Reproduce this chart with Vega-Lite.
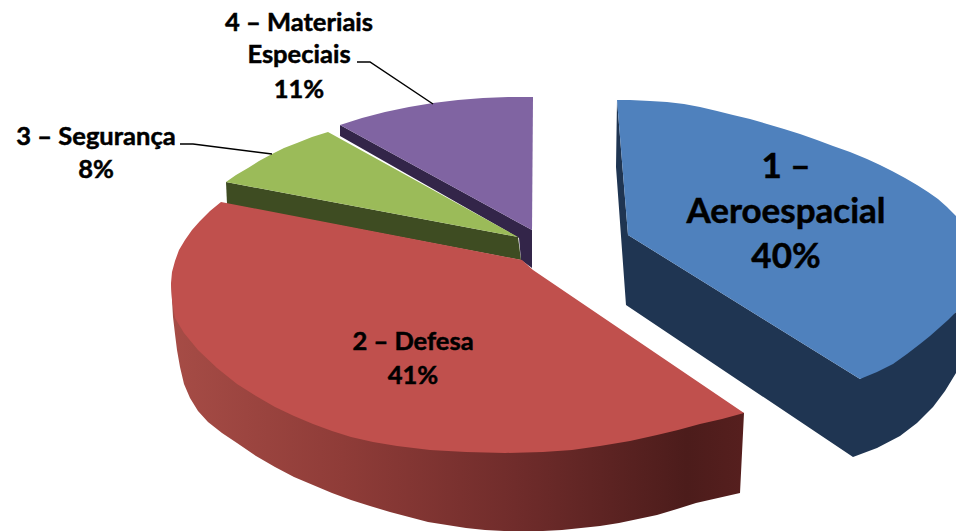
{
  "$schema": "https://vega.github.io/schema/vega-lite/v6.json",
  "width": 956,
  "height": 531,
  "autosize": {"type": "fit", "contains": "padding"},
  "padding": 0,
  "background": "white",
  "view": {"stroke": null},
  "datasets": {
    "outlines": [
      {"part": "blue side", "i": 1, "x": 617, "y": 100}, {"part": "blue side", "i": 2, "x": 616, "y": 167},
      {"part": "blue side", "i": 3, "x": 626, "y": 305}, {"part": "blue side", "i": 4, "x": 853, "y": 457},
      {"part": "blue side", "i": 5, "x": 877, "y": 448}, {"part": "blue side", "i": 6, "x": 900, "y": 436},
      {"part": "blue side", "i": 7, "x": 917, "y": 423}, {"part": "blue side", "i": 8, "x": 933, "y": 407},
      {"part": "blue side", "i": 9, "x": 945, "y": 391}, {"part": "blue side", "i": 10, "x": 956, "y": 373},
      {"part": "blue side", "i": 11, "x": 956, "y": 312}, {"part": "blue side", "i": 12, "x": 860, "y": 379},
      {"part": "blue side", "i": 13, "x": 628, "y": 235},

      {"part": "blue top", "i": 1, "x": 617, "y": 100}, {"part": "blue top", "i": 2, "x": 630, "y": 100},
      {"part": "blue top", "i": 3, "x": 650, "y": 101}, {"part": "blue top", "i": 4, "x": 667, "y": 102},
      {"part": "blue top", "i": 5, "x": 684, "y": 104}, {"part": "blue top", "i": 6, "x": 700, "y": 107},
      {"part": "blue top", "i": 7, "x": 717, "y": 111}, {"part": "blue top", "i": 8, "x": 733, "y": 115},
      {"part": "blue top", "i": 9, "x": 750, "y": 119}, {"part": "blue top", "i": 10, "x": 767, "y": 124},
      {"part": "blue top", "i": 11, "x": 784, "y": 129}, {"part": "blue top", "i": 12, "x": 800, "y": 134},
      {"part": "blue top", "i": 13, "x": 817, "y": 140}, {"part": "blue top", "i": 14, "x": 833, "y": 146},
      {"part": "blue top", "i": 15, "x": 850, "y": 152}, {"part": "blue top", "i": 16, "x": 867, "y": 159},
      {"part": "blue top", "i": 17, "x": 880, "y": 165}, {"part": "blue top", "i": 18, "x": 892, "y": 171},
      {"part": "blue top", "i": 19, "x": 905, "y": 178}, {"part": "blue top", "i": 20, "x": 917, "y": 185},
      {"part": "blue top", "i": 21, "x": 928, "y": 192}, {"part": "blue top", "i": 22, "x": 938, "y": 199},
      {"part": "blue top", "i": 23, "x": 947, "y": 207}, {"part": "blue top", "i": 24, "x": 956, "y": 216},
      {"part": "blue top", "i": 25, "x": 956, "y": 312}, {"part": "blue top", "i": 26, "x": 948, "y": 320},
      {"part": "blue top", "i": 27, "x": 939, "y": 328}, {"part": "blue top", "i": 28, "x": 930, "y": 336},
      {"part": "blue top", "i": 29, "x": 920, "y": 344}, {"part": "blue top", "i": 30, "x": 907, "y": 354},
      {"part": "blue top", "i": 31, "x": 893, "y": 364}, {"part": "blue top", "i": 32, "x": 877, "y": 372},
      {"part": "blue top", "i": 33, "x": 860, "y": 379}, {"part": "blue top", "i": 34, "x": 628, "y": 235},

      {"part": "purple side", "i": 1, "x": 340, "y": 125}, {"part": "purple side", "i": 2, "x": 532, "y": 230},
      {"part": "purple side", "i": 3, "x": 532, "y": 268}, {"part": "purple side", "i": 4, "x": 521, "y": 260},
      {"part": "purple side", "i": 5, "x": 519, "y": 238}, {"part": "purple side", "i": 6, "x": 340, "y": 136},

      {"part": "purple top", "i": 1, "x": 340, "y": 125}, {"part": "purple top", "i": 2, "x": 362, "y": 118},
      {"part": "purple top", "i": 3, "x": 385, "y": 112}, {"part": "purple top", "i": 4, "x": 409, "y": 107},
      {"part": "purple top", "i": 5, "x": 433, "y": 103}, {"part": "purple top", "i": 6, "x": 458, "y": 100},
      {"part": "purple top", "i": 7, "x": 483, "y": 98}, {"part": "purple top", "i": 8, "x": 508, "y": 97},
      {"part": "purple top", "i": 9, "x": 533, "y": 97}, {"part": "purple top", "i": 10, "x": 532, "y": 230},

      {"part": "green side", "i": 1, "x": 226, "y": 182}, {"part": "green side", "i": 2, "x": 518, "y": 237},
      {"part": "green side", "i": 3, "x": 521, "y": 260}, {"part": "green side", "i": 4, "x": 227, "y": 204},

      {"part": "green top", "i": 1, "x": 328, "y": 132}, {"part": "green top", "i": 2, "x": 312, "y": 137},
      {"part": "green top", "i": 3, "x": 297, "y": 143}, {"part": "green top", "i": 4, "x": 284, "y": 148},
      {"part": "green top", "i": 5, "x": 272, "y": 154}, {"part": "green top", "i": 6, "x": 259, "y": 161},
      {"part": "green top", "i": 7, "x": 248, "y": 168}, {"part": "green top", "i": 8, "x": 236, "y": 175},
      {"part": "green top", "i": 9, "x": 226, "y": 182}, {"part": "green top", "i": 10, "x": 518, "y": 237},

      {"part": "red side", "i": 1, "x": 171, "y": 283}, {"part": "red side", "i": 2, "x": 172, "y": 300},
      {"part": "red side", "i": 3, "x": 173, "y": 317}, {"part": "red side", "i": 4, "x": 175, "y": 334},
      {"part": "red side", "i": 5, "x": 177, "y": 350}, {"part": "red side", "i": 6, "x": 180, "y": 367},
      {"part": "red side", "i": 7, "x": 184, "y": 384}, {"part": "red side", "i": 8, "x": 190, "y": 398},
      {"part": "red side", "i": 9, "x": 198, "y": 411}, {"part": "red side", "i": 10, "x": 208, "y": 422},
      {"part": "red side", "i": 11, "x": 222, "y": 433},
      {"part": "red side", "i": 12, "x": 237, "y": 443}, {"part": "red side", "i": 13, "x": 256, "y": 456},
      {"part": "red side", "i": 14, "x": 275, "y": 467}, {"part": "red side", "i": 15, "x": 294, "y": 477},
      {"part": "red side", "i": 16, "x": 313, "y": 485}, {"part": "red side", "i": 17, "x": 332, "y": 493},
      {"part": "red side", "i": 18, "x": 351, "y": 500}, {"part": "red side", "i": 19, "x": 370, "y": 506},
      {"part": "red side", "i": 20, "x": 390, "y": 512}, {"part": "red side", "i": 21, "x": 409, "y": 517},
      {"part": "red side", "i": 22, "x": 428, "y": 522}, {"part": "red side", "i": 23, "x": 447, "y": 525},
      {"part": "red side", "i": 24, "x": 466, "y": 528}, {"part": "red side", "i": 25, "x": 485, "y": 530},
      {"part": "red side", "i": 26, "x": 504, "y": 531}, {"part": "red side", "i": 27, "x": 543, "y": 531},
      {"part": "red side", "i": 28, "x": 562, "y": 530}, {"part": "red side", "i": 29, "x": 581, "y": 528},
      {"part": "red side", "i": 30, "x": 600, "y": 526}, {"part": "red side", "i": 31, "x": 619, "y": 523},
      {"part": "red side", "i": 32, "x": 638, "y": 519}, {"part": "red side", "i": 33, "x": 657, "y": 515},
      {"part": "red side", "i": 34, "x": 677, "y": 509}, {"part": "red side", "i": 35, "x": 696, "y": 503},
      {"part": "red side", "i": 36, "x": 718, "y": 498}, {"part": "red side", "i": 37, "x": 740, "y": 493},
      {"part": "red side", "i": 38, "x": 744, "y": 413}, {"part": "red side", "i": 39, "x": 466, "y": 300},

      {"part": "red top", "i": 1, "x": 221, "y": 202}, {"part": "red top", "i": 2, "x": 522, "y": 260},
      {"part": "red top", "i": 3, "x": 533, "y": 270}, {"part": "red top", "i": 4, "x": 744, "y": 413},
      {"part": "red top", "i": 5, "x": 722, "y": 419}, {"part": "red top", "i": 6, "x": 700, "y": 424},
      {"part": "red top", "i": 7, "x": 678, "y": 430}, {"part": "red top", "i": 8, "x": 657, "y": 435},
      {"part": "red top", "i": 9, "x": 630, "y": 441}, {"part": "red top", "i": 10, "x": 600, "y": 446},
      {"part": "red top", "i": 11, "x": 572, "y": 450}, {"part": "red top", "i": 12, "x": 543, "y": 452},
      {"part": "red top", "i": 13, "x": 505, "y": 453}, {"part": "red top", "i": 14, "x": 466, "y": 452},
      {"part": "red top", "i": 15, "x": 430, "y": 450}, {"part": "red top", "i": 16, "x": 397, "y": 446},
      {"part": "red top", "i": 17, "x": 373, "y": 442}, {"part": "red top", "i": 18, "x": 351, "y": 437},
      {"part": "red top", "i": 19, "x": 332, "y": 431}, {"part": "red top", "i": 20, "x": 313, "y": 424},
      {"part": "red top", "i": 21, "x": 294, "y": 416}, {"part": "red top", "i": 22, "x": 275, "y": 407},
      {"part": "red top", "i": 23, "x": 256, "y": 396}, {"part": "red top", "i": 24, "x": 237, "y": 384},
      {"part": "red top", "i": 25, "x": 217, "y": 368}, {"part": "red top", "i": 26, "x": 198, "y": 350},
      {"part": "red top", "i": 27, "x": 184, "y": 333}, {"part": "red top", "i": 28, "x": 175, "y": 318},
      {"part": "red top", "i": 29, "x": 172, "y": 300}, {"part": "red top", "i": 30, "x": 171, "y": 283},
      {"part": "red top", "i": 31, "x": 172, "y": 272}, {"part": "red top", "i": 32, "x": 175, "y": 261},
      {"part": "red top", "i": 33, "x": 179, "y": 250}, {"part": "red top", "i": 34, "x": 185, "y": 240},
      {"part": "red top", "i": 35, "x": 192, "y": 230}, {"part": "red top", "i": 36, "x": 200, "y": 221},
      {"part": "red top", "i": 37, "x": 210, "y": 211}
    ],
    "leaders": [
      {"sector": "Materiais Especiais", "i": 1, "x": 357, "y": 62}, {"sector": "Materiais Especiais", "i": 2, "x": 370, "y": 62},
      {"sector": "Materiais Especiais", "i": 3, "x": 433, "y": 104},
      {"sector": "Segurança", "i": 1, "x": 180, "y": 144}, {"sector": "Segurança", "i": 2, "x": 193, "y": 144},
      {"sector": "Segurança", "i": 3, "x": 272, "y": 154}
    ],
    "labels": [
      {"text": "1 –", "x": 786, "y": 167, "size": 35},
      {"text": "Aeroespacial", "x": 786, "y": 212, "size": 35},
      {"text": "40%", "x": 786, "y": 257, "size": 35},
      {"text": "2 – Defesa", "x": 413, "y": 342, "size": 25.5},
      {"text": "41%", "x": 413, "y": 376, "size": 25.5},
      {"text": "3 – Segurança", "x": 96, "y": 137, "size": 25.5},
      {"text": "8%", "x": 96, "y": 170, "size": 25.5},
      {"text": "4 – Materiais", "x": 299, "y": 23, "size": 25.5},
      {"text": "Especiais", "x": 299, "y": 55, "size": 25.5},
      {"text": "11%", "x": 299, "y": 90, "size": 25.5}
    ]
  },
  "encoding": {
    "x": {"field": "x", "type": "quantitative", "axis": null, "scale": {"domain": [0, 956], "nice": false, "zero": false}},
    "y": {"field": "y", "type": "quantitative", "axis": null, "scale": {"domain": [531, 0], "nice": false, "zero": false}}
  },
  "layer": [
    {
      "data": {"name": "outlines"},
      "transform": [{"filter": "datum.part != 'red side' && datum.part != 'red top'"}],
      "mark": {"type": "line", "strokeWidth": 0, "interpolate": "linear"},
      "encoding": {
        "order": {"field": "i", "type": "quantitative"},
        "detail": {"field": "part"},
        "fill": {
          "field": "part",
          "type": "nominal",
          "legend": null,
          "scale": {
            "domain": ["blue side", "blue top", "purple side", "purple top", "green side", "green top"],
            "range": ["#1f3552", "#4f81bd", "#332549", "#8064a2", "#3e4c22", "#9bbb59"]
          }
        }
      }
    },
    {
      "data": {"name": "outlines"},
      "transform": [{"filter": "datum.part == 'red side'"}],
      "mark": {
        "type": "line",
        "strokeWidth": 0,
        "fill": {
          "gradient": "linear", "x1": 0, "y1": 0, "x2": 1, "y2": 0,
          "stops": [
            {"offset": 0, "color": "#a64c46"},
            {"offset": 0.3, "color": "#8f3c38"},
            {"offset": 0.6, "color": "#702c2b"},
            {"offset": 0.9, "color": "#4c1c1b"},
            {"offset": 1, "color": "#561f1e"}
          ]
        }
      },
      "encoding": {"order": {"field": "i", "type": "quantitative"}}
    },
    {
      "data": {"name": "outlines"},
      "transform": [{"filter": "datum.part == 'red top'"}],
      "mark": {"type": "line", "strokeWidth": 0, "fill": "#c0504d"},
      "encoding": {"order": {"field": "i", "type": "quantitative"}}
    },
    {
      "data": {"name": "leaders"},
      "mark": {"type": "line", "stroke": "#000000", "strokeWidth": 1.5},
      "encoding": {
        "order": {"field": "i", "type": "quantitative"},
        "detail": {"field": "sector"}
      }
    },
    {
      "data": {"name": "labels"},
      "mark": {"type": "text", "font": "Lato", "fontWeight": "bold", "color": "#000000", "stroke": "#000000", "strokeWidth": 0.5, "align": "center", "baseline": "middle"},
      "encoding": {
        "text": {"field": "text"},
        "size": {"field": "size", "type": "quantitative", "scale": null}
      }
    }
  ]
}
